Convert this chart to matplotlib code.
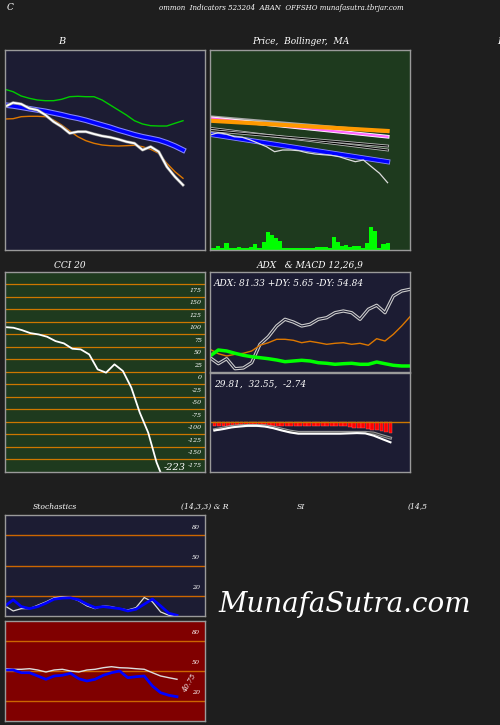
import matplotlib
matplotlib.use("Agg")
import matplotlib.pyplot as plt
import numpy as np

# ---- data ----
b_upper = [160.7,158.3,154,151.7,150,149.3,149.3,150.7,153.3,153.7,153.3,153.3,150,145,140,135,129.3,126,124.3,124,124,126.7,129.3]
b_mid = [145,144,142.7,141.3,140,138.7,137,135.3,133.3,131.7,129.7,127.3,125,122.7,120,117.7,115.3,113.3,111.7,110,107.3,104,100]
b_lower = [131,131.3,133.3,133.7,133.7,133.3,130,125,119,113.3,109.3,106.7,105,104.3,104,104.3,104.7,103.3,100.7,96.7,86.7,78.3,71.7]
b_price = [143.3,147.3,146,141.7,140,135,128.3,123.3,116.7,118.3,118.3,116,114,112.7,110.7,108.3,106.7,100,103.3,98.3,83.3,73.3,65]

p_price = [115,117.3,116,113.3,112.7,110,106.7,103.3,98.3,100,100,99.3,97.3,96,95.3,94.7,93.3,90.7,88.3,90,83.3,76.7,67.3]
ma_gray_start, ma_gray_end = 133.3, 118.3
ma_pink_start, ma_pink_end = 131.7, 113.3
ma_orange_start, ma_orange_end = 129.3, 119
ma_black1_start, ma_black1_end = 121.7, 100
ma_black2_start, ma_black2_end = 119.5, 104
ma_blue_start, ma_blue_end = 115.7, 88.3
volume = [5,5,12,5,22,5,5,8,5,5,10,18,5,25,55,45,35,28,5,5,5,5,5,5,5,5,10,8,8,5,40,25,12,15,10,12,12,5,20,68,58,5,18,20]

cci = [89.8,88.5,83.8,77.8,75.1,70.5,61.8,57.2,46.5,45.2,35.2,5.3,-1.3,15.3,2,-31.2,-81.1,-121,-180.9,-223]
cci_levels = [175,150,125,100,75,50,25,0,-25,-50,-75,-100,-125,-150,-175]

adx = [14.3,8.3,13.3,3.3,4,9.3,27.7,35.3,46,52.7,50,46,47.7,52.7,54.3,59.3,61,59.3,52.7,62.7,66.7,59.3,76,81,82.7]
pdi = [16,22,21,18.7,16.7,15.3,14.3,13.3,12,10.3,11,11.7,11,9.3,8.7,7.7,8.3,8.7,7.7,7.7,10,8.3,6.7,6,6]
mdi = [22.7,18.3,16,17.7,18.7,21,26.7,29.3,32.7,32.7,31.7,29.3,30.7,29.3,27.7,28.7,29.3,27.7,28.7,26.7,33.3,31,37.7,46,55.3]

macd = [-8,-6.7,-5,-4,-3.3,-3.3,-4,-5.7,-8,-10,-11.3,-11.3,-11.3,-11.3,-11.3,-11.3,-11,-10.7,-11,-13.3,-16.7,-20]
signal = [-7.3,-5.7,-4,-3.3,-3,-3,-3.3,-4.7,-6.7,-8.7,-10,-10,-10,-10,-10,-10,-10,-10,-10,-10.7,-13.3,-15.7]
hist = [-3.3]*10 + [-4]*20 + [-4.7,-5.3,-5.3,-6,-6.7,-7.3,-8,-9,-10,-10.5]

stoch_k = [10,16,9.3,7.3,9.3,12.7,16.7,17.7,18,16,11.7,8.3,9.3,8.3,7.3,5,6.7,11.7,16.7,10,2.7,0.7]
stoch_d = [10,5,7.3,7.3,10.7,14,18,19,18.3,15,10,7.3,10,9.3,7.3,6,8.3,18.3,14,4,0.7,0]
rsi = [51,51,48.3,48.3,45,41.7,45,45.7,47.7,42.3,40,41.7,45.7,48.3,50,43.3,44.3,45,35,28.3,25.7,24.3]
rsi_ma = [52.3,51.7,51.7,52.3,51,49,51,51.7,50,49,51,51.7,53.3,54.3,53.3,53,52.3,51.7,48.3,45,43.3,41.7]
osc_levels = [80,50,20]

# ---- figure ----
W, H = 500, 725
fig = plt.figure(figsize=(5, 7.25), dpi=100, facecolor="#1e1e1e")
serif = dict(family="DejaVu Serif", style="italic", color="white")

def mkax(x0, y0, x1, y1, bg):
    a = fig.add_axes([x0/W, 1-y1/H, (x1-x0)/W, (y1-y0)/H], facecolor=bg)
    a.set_xticks([]); a.set_yticks([])
    for s in a.spines.values():
        s.set_color("#9a9a9a"); s.set_linewidth(1)
    return a

def ftext(x, y, s, size=7, ha="left", **kw):
    fig.text(x/W, 1-y/H, s, fontsize=size, ha=ha, va="center", **serif, **kw)

ftext(7, 8, "C", 6.5)
ftext(281, 8, "ommon  Indicators 523204  ABAN  OFFSHO munafasutra.tbrjar.com", 5, ha="center")
ftext(58, 42, "B", 7)
ftext(301, 42, "Price,  Bollinger,  MA", 6.5, ha="center")
ftext(497, 42, "I", 7)
ftext(70, 265, "CCI 20", 6.5, ha="center")
ftext(310, 265, "ADX   & MACD 12,26,9", 6.5, ha="center")
ftext(55, 507, "Stochastics", 5.5, ha="center")
ftext(205, 507, "(14,3,3) & R", 5.5, ha="center")
ftext(301, 507, "SI", 5.5, ha="center")
ftext(418, 507, "(14,5", 5.5, ha="center")
ftext(345, 605, "MunafaSutra.com", 20, ha="center")

# Panel 1: Bollinger
a1 = mkax(5, 50, 205, 250, "#1c1c33")
x = np.arange(len(b_mid))
xl = (0, (len(b_mid)-1)/0.89)
a1.plot(x, b_upper, color="#00cc00", lw=1)
a1.plot(x, b_mid, color="#8888ff", lw=4)
a1.plot(x, b_mid, color="#0000ff", lw=2.5)
a1.plot(x, b_lower, color="#dd7700", lw=1)
a1.plot(x, b_price, color="#888888", lw=2.2)
a1.plot(x, b_price, color="white", lw=1.3)
a1.set_xlim(*xl); a1.set_ylim(0, 200)

# Panel 2: Price MA
a2 = mkax(210, 50, 410, 250, "#1e3a1e")
n = len(p_price)
x2 = np.arange(n)
def ma(s, e, c, lw, edge=None):
    if edge:
        a2.plot([0, n-1], [s, e], color=edge, lw=lw+1.2)
    a2.plot([0, n-1], [s, e], color=c, lw=lw)
ma(ma_gray_start, ma_gray_end, "#aaaaaa", 2)
ma(ma_pink_start, ma_pink_end, "#ff66ff", 1.5, "white")
ma(ma_orange_start, ma_orange_end, "#ff9900", 3)
ma(ma_black1_start, ma_black1_end, "black", 0.8, "#bbbbbb")
ma(ma_black2_start, ma_black2_end, "black", 0.8, "#bbbbbb")
ma(ma_blue_start, ma_blue_end, "#0000ff", 2.5, "#8888ff")
a2.plot(x2, p_price, color="#dddddd", lw=0.9)
xv = np.linspace(0, n-1, len(volume))
a2.bar(xv, np.array(volume)/3, width=(n-1)/(len(volume)-1), color="#00ff00", align="center")
a2.set_xlim(0, (n-1)/0.888); a2.set_ylim(0, 200)

# Panel 3: CCI
a3 = mkax(5, 272, 205, 472, "#1e3a1e")
for lv in cci_levels:
    a3.axhline(lv, color="#cc7700", lw=0.9)
    a3.text(0.985, (lv - 12 + 200)/400, str(lv), transform=a3.transAxes, fontsize=4.5,
            ha="right", va="center", **serif)
xc = np.arange(len(cci))
a3.plot(xc, cci, color="white", lw=1.3)
a3.set_xlim(0, (len(cci)-1)/0.8); a3.set_ylim(-200, 200)
a3.text(0.85, 0.02, f"{cci[-1]}", transform=a3.transAxes, fontsize=7,
        ha="center", va="center", **serif)

# Panel 4: ADX
a4 = mkax(210, 272, 410, 372, "#1c1c33")
xa = np.arange(len(adx))
a4.plot(xa, adx, color="#cccccc", lw=2.4)
a4.plot(xa, adx, color="#1c1c33", lw=0.8)
a4.plot(xa, mdi, color="#dd7700", lw=1)
a4.plot(xa, pdi, color="#00ff00", lw=2.5)
a4.set_xlim(0, len(adx)-1); a4.set_ylim(0, 100)
a4.text(0.02, 0.86, "ADX: 81.33 +DY: 5.65 -DY: 54.84", transform=a4.transAxes, fontsize=6.5, **serif)

# Panel 5: MACD
a5 = mkax(210, 373, 410, 472, "#1c1c33")
xm = np.linspace(0, len(hist)-1, len(macd))
a5.axhline(0, color="#cc7700", lw=1)
a5.bar(np.arange(len(hist)), hist, width=0.85, color="#ff0000", edgecolor="#ff6666", linewidth=0.3)
a5.plot(xm, signal, color="#999999", lw=2.2)
a5.plot(xm, signal, color="#333333", lw=0.6)
a5.plot(xm, macd, color="white", lw=1.5)
a5.set_xlim(-1, (len(hist)-1)/0.9); a5.set_ylim(-50, 50)
a5.text(0.02, 0.86, "29.81,  32.55,  -2.74", transform=a5.transAxes, fontsize=6.5, **serif)

# Panel 6: Stochastics
a6 = mkax(5, 515, 205, 616, "#1c1c33")
xs = np.arange(len(stoch_k))
for lv in osc_levels:
    a6.axhline(lv, color="#cc6600", lw=1)
    a6.text(0.975, (lv + 8)/100, str(lv), transform=a6.transAxes, fontsize=4.5, ha="right", va="center", **serif)
a6.plot(xs, stoch_d, color="#dddddd", lw=0.9)
a6.plot(xs, stoch_k, color="#0000ff", lw=2)
a6.set_xlim(0, (len(stoch_k)-1)/0.86); a6.set_ylim(0, 100)

# Panel 7: RSI
a7 = mkax(5, 621, 205, 721, "#800000")
for lv in osc_levels:
    a7.axhline(lv, color="#cc6600", lw=1)
    a7.text(0.975, (lv + 8)/100, str(lv), transform=a7.transAxes, fontsize=4.5, ha="right", va="center", **serif)
a7.plot(xs, rsi_ma, color="#dddddd", lw=1)
a7.plot(xs, rsi, color="#0000ff", lw=2)
a7.set_xlim(0, (len(rsi)-1)/0.86); a7.set_ylim(0, 100)
a7.text(0.92, 0.38, "40.75", transform=a7.transAxes, fontsize=5, rotation=60, ha="center", va="center", **serif)

fig.savefig("out.png", dpi=100, facecolor=fig.get_facecolor())
